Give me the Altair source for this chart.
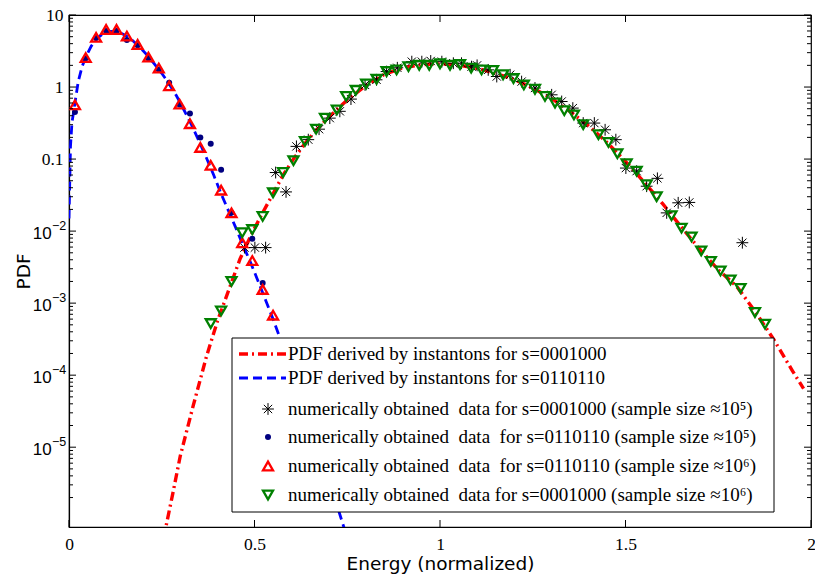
import altair as alt
import pandas as pd

# ---------------- data ----------------
# red dash-dot curve: PDF derived by instantons, s=0001000
rl_e = [0.255, 0.28, 0.30, 0.335, 0.371, 0.40, 0.434, 0.461, 0.494, 0.522, 0.55, 0.577,
        0.605, 0.636, 0.666, 0.70, 0.75, 0.80, 0.85, 0.90, 0.95, 1.00, 1.05, 1.10, 1.15,
        1.20, 1.25, 1.30, 1.35, 1.40, 1.45, 1.50, 1.55, 1.60, 1.65, 1.70, 1.75, 1.80,
        1.85, 1.90, 1.95, 1.98]
rl_p = [5.5e-7, 2.3e-6, 7.6e-6, 3.8e-5, 1.85e-4, 5.6e-4, 1.7e-3, 4.1e-3, 0.0095, 0.018,
        0.033, 0.06, 0.1, 0.165, 0.25, 0.38, 0.66, 1.05, 1.5, 1.85, 2.05, 2.1, 2.02, 1.82,
        1.55, 1.27, 0.97, 0.70, 0.46, 0.29, 0.17, 0.093, 0.048, 0.024, 0.0115, 0.0056,
        0.0029, 0.0017, 7.6e-4, 3.1e-4, 1.15e-4, 6.5e-5]

# blue dashed curve: PDF derived by instantons, s=0110110
bl_e = [0.0, 0.004, 0.008, 0.016, 0.025, 0.035, 0.045, 0.06, 0.075, 0.09, 0.11, 0.13,
        0.15, 0.17, 0.19, 0.21, 0.23, 0.25, 0.27, 0.29, 0.31, 0.33, 0.35, 0.37, 0.39,
        0.41, 0.43, 0.45, 0.47, 0.49, 0.51, 0.53, 0.55, 0.60, 0.65, 0.70, 0.75]
bl_p = [0.015, 0.15, 0.32, 0.6, 1.2, 1.9, 2.6, 3.7, 4.7, 5.4, 5.9, 5.9, 5.3, 4.5, 3.6,
        2.8, 2.1, 1.55, 1.1, 0.75, 0.48, 0.3, 0.18, 0.105, 0.06, 0.033, 0.019, 0.011,
        0.0062, 0.0036, 0.002, 0.0011, 6e-4, 1.2e-4, 2.2e-5, 3.6e-6, 5.5e-7]

# black asterisks: s=0001000, sample size ~1e5
ast_e = [0.473, 0.501, 0.530, 0.557, 0.585, 0.613, 0.645, 0.674, 0.703, 0.730, 0.760,
         0.798, 0.829, 0.856, 0.885, 0.924, 0.951, 0.975, 1.005, 1.036, 1.058, 1.085,
         1.100, 1.130, 1.153, 1.189, 1.220, 1.256, 1.301, 1.328, 1.358, 1.386, 1.416,
         1.445, 1.474, 1.501, 1.530, 1.557, 1.586, 1.611, 1.642, 1.672, 1.815]
ast_p = [0.0059, 0.0059, 0.0059, 0.065, 0.035, 0.15, 0.186, 0.26, 0.37, 0.46, 0.68,
         1.07, 1.26, 1.64, 1.85, 2.25, 2.25, 2.3, 2.25, 2.14, 2.14, 1.92, 2.0, 1.73, 1.4,
         1.48, 1.19, 0.97, 0.78, 0.63, 0.51, 0.316, 0.316, 0.255, 0.186, 0.075, 0.068,
         0.042, 0.054, 0.0179, 0.0247, 0.025, 0.0069]

# navy dots: s=0110110, sample size ~1e5
dot_e = [0.016, 0.045, 0.073, 0.100, 0.128, 0.156, 0.185, 0.214, 0.242, 0.270, 0.298,
         0.326, 0.354, 0.382, 0.410, 0.438, 0.494, 0.522]
dot_p = [0.45, 2.5, 4.8, 6.0, 6.0, 4.5, 3.8, 2.5, 1.75, 1.15, 0.57, 0.43, 0.2, 0.163,
         0.071, 0.018, 0.0078, 0.0019]

# red up-triangles: s=0110110, sample size ~1e6
tri_e = [0.016, 0.045, 0.073, 0.100, 0.128, 0.156, 0.185, 0.214, 0.242, 0.270, 0.298,
         0.326, 0.354, 0.382, 0.410, 0.438, 0.467, 0.494, 0.522, 0.550]
tri_p = [0.566, 2.56, 4.9, 6.3, 6.3, 5.1, 3.9, 2.6, 1.83, 1.04, 0.58, 0.31, 0.145,
         0.082, 0.037, 0.0179, 0.0069, 0.0039, 0.00155, 0.00068]

# green down-triangles: s=0001000, sample size ~1e6
gtri_e = [0.382, 0.410, 0.438, 0.467, 0.494, 0.522, 0.550, 0.577, 0.605, 0.636, 0.666,
          0.690, 0.722, 0.747, 0.773, 0.801, 0.829, 0.856, 0.883, 0.915, 0.944, 0.971,
          1.000, 1.027, 1.054, 1.084, 1.112, 1.143, 1.170, 1.198, 1.226, 1.256, 1.283,
          1.310, 1.335, 1.361, 1.386, 1.427, 1.454, 1.478, 1.503, 1.530, 1.557, 1.584,
          1.624, 1.651, 1.678, 1.704, 1.730, 1.756, 1.783, 1.810, 1.849, 1.876]
gtri_p = [5.2e-4, 7.8e-4, 2.0e-3, 0.0095, 0.0105, 0.016, 0.034, 0.065, 0.095, 0.176,
          0.26, 0.37, 0.48, 0.74, 0.9, 1.1, 1.28, 1.64, 1.73, 1.92, 2.0, 2.0, 2.1, 2.0,
          2.05, 1.83, 1.73, 1.7, 1.48, 1.31, 1.07, 0.93, 0.74, 0.60, 0.47, 0.41, 0.30,
          0.218, 0.17, 0.119, 0.086, 0.068, 0.044, 0.030, 0.0164, 0.011, 0.0083, 0.0053,
          0.0038, 0.0028, 0.0021, 0.0016, 7.4e-4, 5.1e-4]

x_ticks = [0, 0.5, 1, 1.5, 2]
y_ticks = [10, 1, 0.1, 0.01, 0.001, 0.0001, 0.00001]
y_plain_labels = ["10", "1", "0.1"]            # labels for the first three ticks
y_sci_ticks = [0.01, 0.001, 0.0001, 0.00001]    # labels written as 10 with exponent
y_sci_base = ["10", "10", "10", "10"]
y_sci_exp = ["\u22122", "\u22123", "\u22124", "\u22125"]
y_minor = [k * 10.0 ** d for d in range(-6, 1) for k in range(2, 10)]

legend_labels = [
    "PDF derived by instantons for s=0001000",
    "PDF derived by instantons for s=0110110",
    "numerically obtained\u00a0 data for s=0001000 (sample size \u224810\u2075)",
    "numerically obtained\u00a0 data\u00a0 for s=0110110 (sample size \u224810\u2075)",
    "numerically obtained\u00a0 data\u00a0 for s=0110110 (sample size \u224810\u2076)",
    "numerically obtained\u00a0 data for s=0001000 (sample size \u224810\u2076)",
]

# ---------------- layout ----------------
W, H = 742, 512
PAD_L, PAD_T = 69, 15
YMIN, YMAX = 7.8e-7, 10

RED, BLUE, NAVY, GREEN = "#ff0000", "#0000ff", "#000080", "#008000"
AST = "M -1 0 L 1 0 M 0 -1 L 0 1 M -0.7 -0.7 L 0.7 0.7 M -0.7 0.7 L 0.7 -0.7"
TRI_SIZE, TRI_SW, DOT_SIZE, AST_SIZE = 100, 2.3, 36, 140

xs = alt.Scale(domain=[0, 2], nice=False, zero=False)
ys = alt.Scale(type="log", domain=[YMIN, YMAX], nice=False)

bounds = [5, 0.5, 0.05]
expr = "''"
for b, lab in reversed(list(zip(bounds, y_plain_labels))):
    expr = f"datum.value > {b} ? '{lab}' : ({expr})"

X = alt.X("E:Q", scale=xs, axis=alt.Axis(
    values=x_ticks, format="~g", title="Energy (normalized)", grid=False, ticks=False,
    labelFont="Liberation Serif", labelFontSize=17.5, labelPadding=8, labelColor="black",
    labelFlush=False, domainColor="black", domainWidth=1.2,
    titleFont="DejaVu Sans", titleFontSize=18.5, titleFontWeight="normal",
    titleColor="black", titleY=36, titleBaseline="middle"))
Y = alt.Y("P:Q", scale=ys, axis=alt.Axis(
    values=y_ticks, labelExpr=expr, title="PDF", grid=False, ticks=False,
    labelFont="Liberation Serif", labelFontSize=17.5, labelPadding=6, labelColor="black",
    labelFlush=False, domainColor="black", domainWidth=1.2,
    titleFont="DejaVu Sans", titleFontSize=18.5, titleFontWeight="normal",
    titleColor="black", titleX=-46, titleY=H / 2, titleAngle=270,
    titleAlign="center", titleBaseline="middle"))


def df(e, p):
    return pd.DataFrame({"E": e, "P": p})


one = pd.DataFrame({"a": [0]})

layers = []
layers.append(alt.Chart(df(rl_e, rl_p)).mark_line(
    color=RED, strokeWidth=3.4, strokeDash=[9, 4, 2, 4], clip=True).encode(x=X, y=Y))
layers.append(alt.Chart(df(bl_e, bl_p)).mark_line(
    color=BLUE, strokeWidth=2.8, strokeDash=[9, 5], clip=True).encode(x=X, y=Y))
layers.append(alt.Chart(df(ast_e, ast_p)).mark_point(
    shape=AST, size=AST_SIZE, filled=False, color="black", strokeWidth=1, opacity=1,
    clip=True).encode(x=X, y=Y))
layers.append(alt.Chart(df(dot_e, dot_p)).mark_point(
    shape="circle", size=DOT_SIZE, filled=True, color=NAVY, opacity=1, clip=True).encode(x=X, y=Y))
layers.append(alt.Chart(df(tri_e, tri_p)).mark_point(
    shape="triangle-up", size=TRI_SIZE, filled=False, color=RED, strokeWidth=TRI_SW, opacity=1,
    clip=True).encode(x=X, y=Y))
layers.append(alt.Chart(df(gtri_e, gtri_p)).mark_point(
    shape="triangle-down", size=TRI_SIZE, filled=False, color=GREEN, strokeWidth=TRI_SW, opacity=1,
    clip=True).encode(x=X, y=Y))

# y labels of the form 10^-n (sans serif, with a raised exponent)
sci = pd.DataFrame({"P": y_sci_ticks, "base": y_sci_base, "exp": y_sci_exp})
layers.append(alt.Chart(sci).mark_text(
    align="right", baseline="middle", font="Liberation Sans", fontSize=17, color="black",
    dy=3).encode(y=Y, x=alt.value(51.7 - PAD_L), text="base:N"))
layers.append(alt.Chart(sci).mark_text(
    align="left", baseline="middle", font="Liberation Sans", fontSize=12.5, color="black",
    dy=-5).encode(y=Y, x=alt.value(52 - PAD_L), text="exp:N"))

# inward tick marks (MATLAB style) on all four sides
ymaj = pd.DataFrame({"P": y_ticks})
ymin_df = pd.DataFrame({"P": [v for v in y_minor if YMIN <= v <= YMAX]})
xmaj = pd.DataFrame({"E": x_ticks})
tick_style = dict(color="black", strokeWidth=1)
for d, ln in ((ymaj, 7), (ymin_df, 4)):
    layers.append(alt.Chart(d).mark_rule(**tick_style).encode(
        y=Y, x=alt.value(0), x2=alt.value(ln)))
    layers.append(alt.Chart(d).mark_rule(**tick_style).encode(
        y=Y, x=alt.value(W), x2=alt.value(W - ln)))
layers.append(alt.Chart(xmaj).mark_rule(**tick_style).encode(
    x=X, y=alt.value(H), y2=alt.value(H - 7)))
layers.append(alt.Chart(xmaj).mark_rule(**tick_style).encode(
    x=X, y=alt.value(0), y2=alt.value(7)))

# ---------------- legend (manual, boxed) ----------------
LX0, LX1, LY0, LY1 = 232 - PAD_L, 774 - PAD_L, 338 - PAD_T, 512 - PAD_T
row_y = [v - PAD_T for v in (354, 378, 409, 437, 466, 495)]
SX0, SX1, SYM_X, TXT_X = 239 - PAD_L, 286 - PAD_L, 268 - PAD_L, 288 - PAD_L

layers.append(alt.Chart(one).mark_rect(fill="white", stroke="black", strokeWidth=1).encode(
    x=alt.value(LX0), x2=alt.value(LX1), y=alt.value(LY0), y2=alt.value(LY1)))
layers.append(alt.Chart(one).mark_rule(color=RED, strokeWidth=3.4, strokeDash=[9, 4, 2, 4]).encode(
    x=alt.value(SX0), x2=alt.value(SX1), y=alt.value(row_y[0])))
layers.append(alt.Chart(one).mark_rule(color=BLUE, strokeWidth=2.8, strokeDash=[9, 5]).encode(
    x=alt.value(SX0), x2=alt.value(SX1), y=alt.value(row_y[1])))
layers.append(alt.Chart(one).mark_point(
    shape=AST, size=AST_SIZE, filled=False, color="black", strokeWidth=1, opacity=1).encode(
    x=alt.value(SYM_X), y=alt.value(row_y[2])))
layers.append(alt.Chart(one).mark_point(
    shape="circle", size=DOT_SIZE, filled=True, color=NAVY, opacity=1).encode(
    x=alt.value(SYM_X), y=alt.value(row_y[3])))
layers.append(alt.Chart(one).mark_point(
    shape="triangle-up", size=TRI_SIZE, filled=False, color=RED, strokeWidth=TRI_SW, opacity=1).encode(
    x=alt.value(SYM_X), y=alt.value(row_y[4])))
layers.append(alt.Chart(one).mark_point(
    shape="triangle-down", size=TRI_SIZE, filled=False, color=GREEN, strokeWidth=TRI_SW, opacity=1).encode(
    x=alt.value(SYM_X), y=alt.value(row_y[5])))
for lab, yy in zip(legend_labels, row_y):
    layers.append(alt.Chart(one).mark_text(
        align="left", baseline="middle", font="Liberation Serif", fontSize=19,
        color="black").encode(x=alt.value(TXT_X), y=alt.value(yy), text=alt.value(lab)))

chart = alt.layer(*layers).properties(
    width=W, height=H,
    padding={"left": PAD_L, "top": PAD_T, "right": 815 - PAD_L - W, "bottom": 579 - PAD_T - H},
    autosize=alt.AutoSizeParams(type="none"),
    background="white",
).configure_view(stroke="black", strokeWidth=1.2)

chart.save("out.html", embed_options={"renderer": "svg", "actions": False})
